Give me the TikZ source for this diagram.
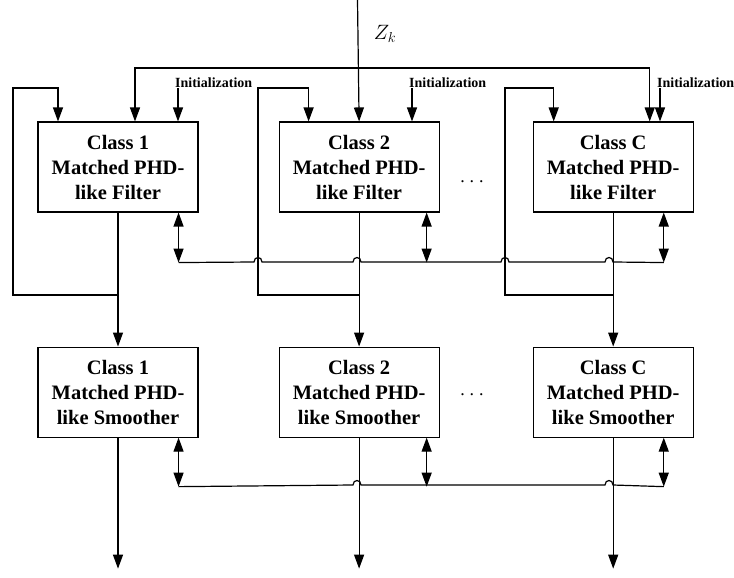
\documentclass[tikz,border=0pt]{standalone}
\usepackage{fontspec}
\setmainfont{Liberation Serif}
\usetikzlibrary{arrows.meta, positioning, calc}
\tikzset{
  blockbox/.style={
    rectangle, draw=black, line width=1.1pt, minimum width=160pt, minimum height=90pt,
    inner sep=0pt, align=center, font=\fontsize{20.5}{25}\selectfont\bfseries
  },
  edge/.style={-{Triangle[length=14pt,width=10pt]}, line width=1.2pt},
  biedge/.style={{Triangle[length=14pt,width=10pt]}-{Triangle[length=14pt,width=10pt]}, line width=1.2pt},
  bus/.style={line width=1.2pt},
  initlabel/.style={anchor=south west, inner sep=0pt, font=\fontsize{14}{15}\selectfont\bfseries},
  dotlabel/.style={font=\fontsize{18}{20}\selectfont}
}
\begin{document}
\begin{tikzpicture}[x=1pt, y=-1pt]
    \useasboundingbox (0,0) rectangle (734,578);
    % filters
    \node[blockbox] (f1) at (118,167) {Class 1\\Matched PHD-\\like Filter};
    \node[blockbox, right=80pt of f1] (f2) {Class 2\\Matched PHD-\\like Filter};
    \node[blockbox, right=93pt of f2] (fC) {Class C\\Matched PHD-\\like Filter};
    % smoothers
    \node[blockbox, below=134pt of f1] (s1) {Class 1\\Matched PHD-\\like Smoother};
    \node[blockbox, below=134pt of f2] (s2) {Class 2\\Matched PHD-\\like Smoother};
    \node[blockbox, below=134pt of fC] (sC) {Class C\\Matched PHD-\\like Smoother};
    \node[dotlabel] (dotsF) at (472,182) {.\;.\;.};
    \node[dotlabel] (dotsS) at (472,395) {.\;.\;.};
    % measurement input
    \coordinate (zin) at (357.5,0);
    \coordinate (zbus) at (357.5,68);
    \node[font=\fontsize{20}{22}\selectfont] (zk) at (385,34) {$Z_k$};
    \draw[edge] (zin) -- (f2.north);
    \draw[edge] (zbus) -| ([xshift=17pt]f1.north);
    \draw[edge] (zbus) -| ([xshift=36.5pt]fC.north);
    % initialization
    \node[initlabel] (init1) at (175,88) {Initialization};
    \node[initlabel] (init2) at (409,88) {Initialization};
    \node[initlabel] (initC) at (657,88) {Initialization};
    \draw[edge] ([xshift=3pt]init1.south west) -- ([xshift=3pt]init1.south west |- f1.north);
    \draw[edge] ([xshift=3pt]init2.south west) -- ([xshift=3pt]init2.south west |- f2.north);
    \draw[edge] ([xshift=3pt]initC.south west) -- ([xshift=3pt]initC.south west |- fC.north);
    % filter outputs and feedback
    \draw[edge] (f1.south) -- (s1.north);
    \draw[edge] (f2.south) -- (s2.north);
    \draw[edge] (fC.south) -- (sC.north);
    \draw[edge] (f1.south |- 0,295) -| (13,88) -| ([xshift=-60pt]f1.north);
    \draw[edge] (f2.south |- 0,295) -| (258,88) -| ([xshift=-50.5pt]f2.north);
    \draw[edge] (fC.south |- 0,295) -| (505,88) -| ([xshift=-59.5pt]fC.north);
    % filter interaction
    \draw[biedge] ([xshift=-20pt]f1.south east) -- ++(0,50) coordinate (fb1);
    \draw[biedge] ([xshift=-13pt]f2.south east) -- ++(0,50) coordinate (fb2);
    \draw[biedge] ([xshift=-30pt]fC.south east) -- ++(0,50) coordinate (fbC);
    \draw[bus] (fb1) -- (254,262) .. controls (254,256) and (262,256) .. (262,262)
      -- (353,262) .. controls (353,256) and (361,256) .. (361,262)
      -- (501,262) .. controls (501,256) and (509,256) .. (509,262)
      -- (605,262) .. controls (605,256) and (613,256) .. (613,262) -- (fbC);
    % smoother interaction
    \draw[biedge] ([xshift=-20pt]s1.south east) -- ++(0,49) coordinate (sb1);
    \draw[biedge] ([xshift=-13pt]s2.south east) -- ++(0,49) coordinate (sb2);
    \draw[biedge] ([xshift=-30pt]sC.south east) -- ++(0,49) coordinate (sbC);
    \draw[bus] (sb1) -- (353,485) .. controls (353,479) and (361,479) .. (361,485)
      -- (605,485) .. controls (605,479) and (613,479) .. (613,485) -- (sbC);
    % outputs
    \draw[edge] (s1.south) -- ++(0,131) coordinate (o1);
    \draw[edge] (s2.south) -- ++(0,131) coordinate (o2);
    \draw[edge] (sC.south) -- ++(0,131) coordinate (oC);
\end{tikzpicture}
\end{document}
